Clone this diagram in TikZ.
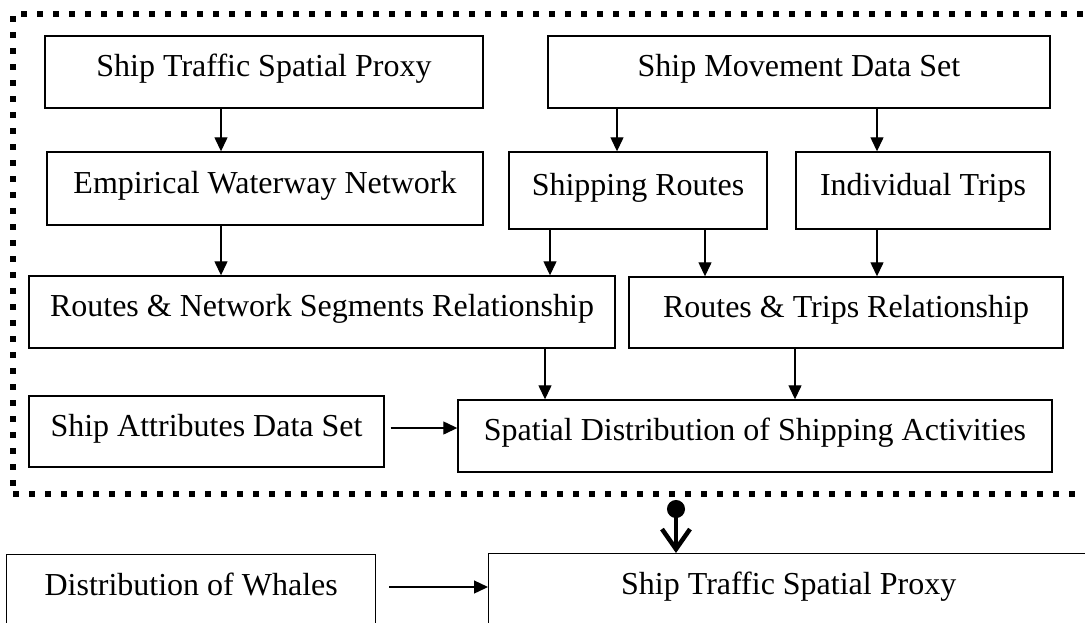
\documentclass[tikz,border=0pt]{standalone}
\usepackage{fontspec}
\setmainfont{Liberation Serif}
\usetikzlibrary{arrows.meta}
\tikzset{
  box/.style={draw, line width=1.4pt, inner sep=0pt, text height=20pt, text depth=10.6pt, font=\fontsize{32}{38}\selectfont},
  arr/.style={line width=1.3pt, -{Triangle[length=14pt,width=13pt]}},
  frame/.style={draw, line width=6pt, dash pattern=on 6pt off 10pt, inner sep=0pt},
  bigarr/.style={line width=4.5pt, {Circle[length=18pt]}-{Straight Barb[length=20pt,width=28pt,line width=4.5pt]}}
}
\begin{document}
\begin{tikzpicture}[x=1pt,y=-1pt]
\useasboundingbox (0,0) rectangle (1085,622);
\node[frame, minimum width=1087pt, minimum height=480pt] (frame) at (556.5,254) {};
\node[box, minimum width=438pt, minimum height=72pt] (A) at (264,72) {Ship Traffic Spatial Proxy};
\node[box, minimum width=502pt, minimum height=72pt] (B) at (799,72) {Ship Movement Data Set};
\node[box, minimum width=436pt, minimum height=73pt] (C) at (265,188.5) {Empirical Waterway Network};
\node[box, minimum width=258pt, minimum height=77pt] (D) at (638,190.5) {Shipping Routes};
\node[box, minimum width=254pt, minimum height=77pt] (E) at (923,190.5) {Individual Trips};
\node[box, minimum width=586pt, minimum height=72pt] (F) at (322,312) {Routes \& Network Segments Relationship};
\node[box, minimum width=434pt, minimum height=71pt] (G) at (846,312.5) {Routes \& Trips Relationship};
\node[box, minimum width=355pt, minimum height=71pt] (I) at (206.5,431.5) {Ship Attributes Data Set};
\node[box, minimum width=594pt, minimum height=72pt] (H) at (755,436) {Spatial Distribution of Shipping Activities};
\node[box, anchor=north west, minimum width=369pt, text height=41pt, text depth=50pt] (K) at (6,554) {Distribution of Whales};
\node[box, anchor=north west, minimum width=600pt, text height=41pt, text depth=50pt] (J) at (488,553) {Ship Traffic Spatial Proxy};
\coordinate (xa) at (221,0);
\coordinate (xb) at (617,0);
\coordinate (xc) at (877,0);
\coordinate (xd) at (550,0);
\coordinate (xe) at (705,0);
\coordinate (xf) at (545,0);
\coordinate (xg) at (795,0);
\coordinate (xh) at (676,0);
\draw[arr] (xa |- A.south) -- (xa |- C.north);
\draw[arr] (xb |- B.south) -- (xb |- D.north);
\draw[arr] (xc |- B.south) -- (xc |- E.north);
\draw[arr] (xa |- C.south) -- (xa |- F.north);
\draw[arr] (xd |- D.south) -- (xd |- F.north);
\draw[arr] (xe |- D.south) -- (xe |- G.north);
\draw[arr] (xc |- E.south) -- (xc |- G.north);
\draw[arr] (xf |- F.south) -- (xf |- H.north);
\draw[arr] (xg |- G.south) -- (xg |- H.north);
\draw[arr, shorten <=6pt] (I.east |- 0,428) -- (H.west |- 0,428);
\draw[arr, shorten <=13pt] (K.north east |- 0,587) -- (J.north west |- 0,587);
\draw[bigarr] ([yshift=-3pt]xh |- frame.south) -- (xh |- J.north);
\end{tikzpicture}
\end{document}
